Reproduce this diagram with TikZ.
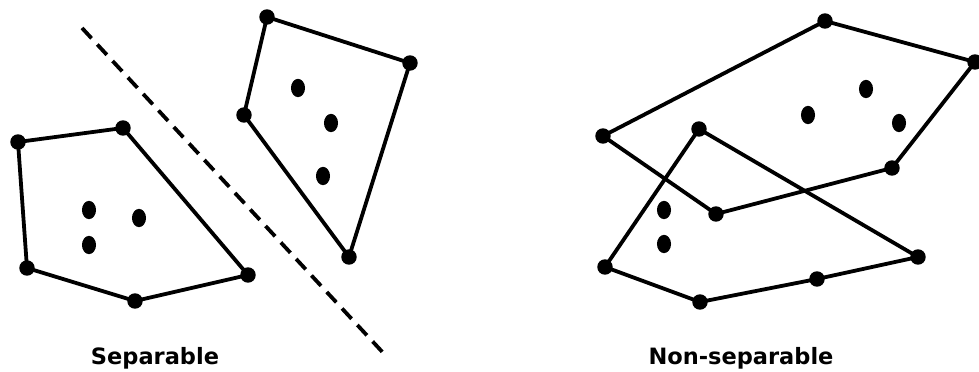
\documentclass[tikz,border=0pt]{standalone}
\usepackage{fontspec}
\setmainfont{DejaVu Sans}
\tikzset{
  hull/.style={line width=2.7pt, line join=round},
  vtx/.style={circle, fill=black, inner sep=0pt, minimum size=11pt},
  pt/.style={ellipse, fill=black, inner sep=0pt, minimum width=10pt, minimum height=13pt},
  cut/.style={line width=2.7pt, dash pattern=on 10pt off 6pt},
  caption/.style={font=\bfseries\fontsize{16}{19}\selectfont}
}
\usetikzlibrary{shapes.geometric}
\begin{document}
\begin{tikzpicture}[x=0.025cm, y=-0.025cm]
  \useasboundingbox (0,0) rectangle (979,372);

  % -- Separable: left hull --
  \node[vtx] (a1) at (18,142) {};
  \node[vtx] (a2) at (123,128) {};
  \node[vtx] (a3) at (248,275) {};
  \node[vtx] (a4) at (135,301) {};
  \node[vtx] (a5) at (27,268) {};
  \draw[hull] (a1.center) -- (a2.center) -- (a3.center) -- (a4.center) -- (a5.center) -- cycle;
  \node[pt] (a6) at (89,210) {};
  \node[pt] (a7) at (139,218) {};
  \node[pt] (a8) at (89,245) {};

  % -- Separable: right hull --
  \node[vtx] (b1) at (267,17) {};
  \node[vtx] (b2) at (410,63) {};
  \node[vtx] (b3) at (349,257) {};
  \node[vtx] (b4) at (244,115) {};
  \draw[hull] (b1.center) -- (b2.center) -- (b3.center) -- (b4.center) -- cycle;
  \node[pt] (b5) at (298,88) {};
  \node[pt] (b6) at (331,123) {};
  \node[pt] (b7) at (323,176) {};

  % -- Separating line --
  \coordinate (s1) at (82,28);
  \coordinate (s2) at (387,357);
  \draw[cut] (s1) -- (s2);

  % -- Non-separable: upper hull --
  \node[vtx] (c1) at (825,21) {};
  \node[vtx] (c2) at (975,62) {};
  \node[vtx] (c3) at (892,168) {};
  \node[vtx] (c4) at (716,214) {};
  \node[vtx] (c5) at (603,136) {};
  \draw[hull] (c1.center) -- (c2.center) -- (c3.center) -- (c4.center) -- (c5.center) -- cycle;
  \node[pt] (c6) at (866,89) {};
  \node[pt] (c7) at (808,115) {};
  \node[pt] (c8) at (899,123) {};

  % -- Non-separable: lower hull --
  \node[vtx] (d1) at (699,129) {};
  \node[vtx] (d2) at (918,257) {};
  \node[vtx] (d3) at (817,279) {};
  \node[vtx] (d4) at (700,302) {};
  \node[vtx] (d5) at (605,267) {};
  \draw[hull] (d1.center) -- (d2.center) -- (d3.center) -- (d4.center) -- (d5.center) -- cycle;
  \node[pt] (d6) at (664,210) {};
  \node[pt] (d7) at (664,244) {};

  % -- Captions --
  \node[caption] (sep) at (155,358) {Separable};
  \node[caption] (nonsep) at (741,358) {Non-separable};

\end{tikzpicture}
\end{document}
